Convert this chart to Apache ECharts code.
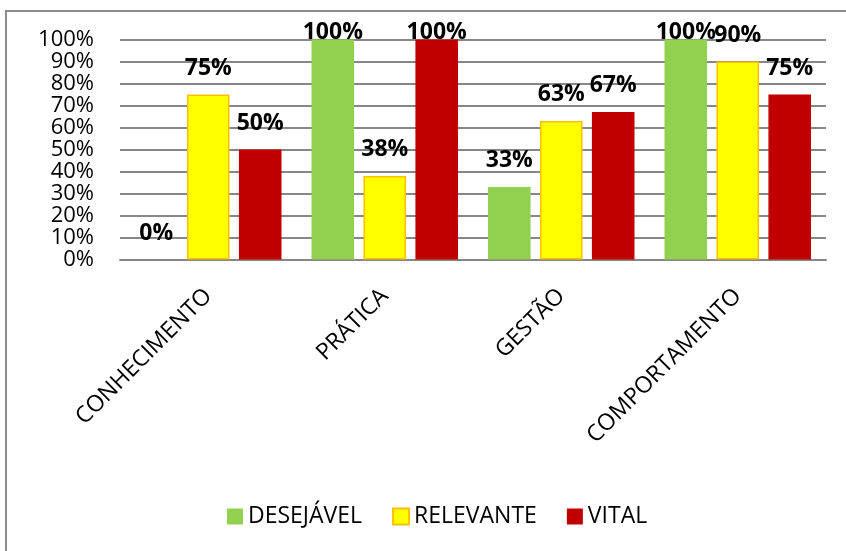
<!DOCTYPE html>
<html>
<head>
<meta charset="utf-8">
<script src="https://cdn.jsdelivr.net/npm/echarts@6/dist/echarts.min.js"></script>
<style>
html,body{margin:0;padding:0;background:#fff;}
#chart{width:846px;height:551px;}
</style>
</head>
<body>
<div id="chart"></div>
<script>
var categories = ['CONHECIMENTO', 'PRÁTICA', 'GESTÃO', 'COMPORTAMENTO'];
var seriesNames = ['DESEJÁVEL', 'RELEVANTE', 'VITAL'];
var desejavel = [0, 1.00, 0.33, 1.00];
var relevante = [0.75, 0.38, 0.63, 0.90];
var vital = [0.50, 1.00, 0.67, 0.75];
var yTicks = [0, 0.1, 0.2, 0.3, 0.4, 0.5, 0.6, 0.7, 0.8, 0.9, 1.0];

var FONT = '"Open Sans", "Noto Sans", sans-serif';
var colors = ['#92D050', '#FFFF00', '#C00000'];
var borders = ['#92D050', '#FFC000', '#C00000'];
var values = [desejavel, relevante, vital];

function pct(v) { return Math.round(v * 100) + '%'; }

var series = seriesNames.map(function (name, i) {
  return {
    name: name,
    type: 'bar',
    barGap: '22%',
    barCategoryGap: '17%',
    itemStyle: { color: colors[i], borderColor: borders[i], borderWidth: i === 1 ? 1.5 : 0 },
    label: {
      show: true,
      position: 'top',
      distance: 15,
      fontFamily: FONT,
      fontSize: 23,
      fontWeight: 'bold',
      color: '#000',
      formatter: function (p) { return pct(p.value); }
    },
    data: values[i].map(function (v) {
      return v >= 1 ? { value: v, label: { distance: -4 } } : v;
    })
  };
});

var chart = echarts.init(document.getElementById('chart'));
chart.setOption({
  animation: false,
  backgroundColor: '#fff',
  graphic: [{
    type: 'rect',
    shape: { x: 6, y: 11, width: 900, height: 600 },
    style: { fill: 'none', stroke: '#8c8c8c', lineWidth: 2 },
    silent: true
  }],
  grid: { left: 120, right: 20, top: 39.5, bottom: 291.5 },
  legend: {
    data: seriesNames,
    left: 222,
    top: 500,
    itemWidth: 16,
    itemHeight: 16,
    itemGap: 30,
    icon: 'rect',
    textStyle: { fontFamily: FONT, fontSize: 23, color: '#000' }
  },
  xAxis: {
    type: 'category',
    data: categories,
    axisLine: { show: true, lineStyle: { color: '#878787', width: 2 } },
    axisTick: { show: false },
    axisLabel: {
      rotate: 45,
      margin: 33,
      interval: 0,
      fontFamily: FONT,
      fontSize: 23,
      color: '#000'
    }
  },
  yAxis: {
    type: 'value',
    min: 0,
    max: 1,
    interval: 0.1,
    axisLine: { show: false },
    axisTick: { show: false },
    splitLine: { lineStyle: { color: '#878787', width: 2 } },
    axisLabel: {
      margin: 26,
      fontFamily: FONT,
      fontSize: 22,
      color: '#000',
      formatter: function (v) {
        var t = yTicks.filter(function (x) { return Math.abs(x - v) < 1e-6; })[0];
        return pct(t !== undefined ? t : v);
      }
    }
  },
  series: series
});
</script>
</body>
</html>
